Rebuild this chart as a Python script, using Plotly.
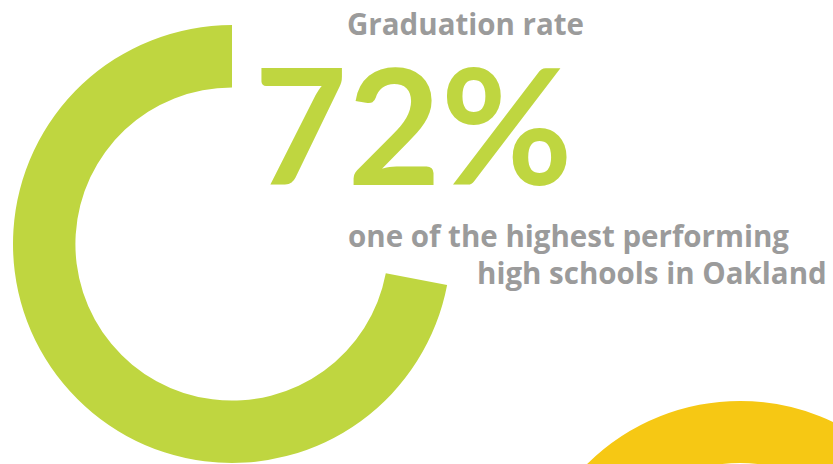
import plotly.graph_objects as go

# ---- data ----
labels = ["Graduated", "Not graduated"]
values = [72, 28]
title_text = "Graduation rate"
big_text = "72%"
sub_line1 = "one of the highest performing"
sub_line2 = "high schools in Oakland"

GREEN = "#bfd640"
YELLOW = "#f6c814"
GRAY = "#9b9b9b"

W, H = 833, 464

def px(x):
    return x / W

def py(y):
    return 1 - y / H

fig = go.Figure()

# green donut (72% of the ring, running counterclockwise from 12 o'clock)
cx, cy, R = 232, 244, 219
fig.add_trace(go.Pie(
    labels=labels[::-1],
    values=values[::-1],
    sort=False,
    direction="clockwise",
    rotation=0,
    hole=0.715,
    marker=dict(colors=["rgba(0,0,0,0)", GREEN], line=dict(width=0)),
    textinfo="none",
    hoverinfo="none",
    showlegend=False,
    domain=dict(x=[px(cx - R), px(cx + R)], y=[py(cy + R), py(cy - R)]),
))

# partial yellow ring at bottom-right (next stat, cut off)
ycx, ycy, yr_mid, yw = 740, 618, 186, 62
fig.add_shape(type="circle", xref="paper", yref="paper",
              x0=px(ycx - yr_mid), x1=px(ycx + yr_mid),
              y0=py(ycy + yr_mid), y1=py(ycy - yr_mid),
              line=dict(color=YELLOW, width=yw), fillcolor="rgba(0,0,0,0)",
              layer="below")

TXT_FONT = "Open Sans"
TS = 29.5
fig.add_annotation(text=title_text, x=px(345), y=py(24), xref="paper", yref="paper",
                   xanchor="left", yanchor="middle", showarrow=False,
                   font=dict(family=TXT_FONT, size=TS, color=GRAY, weight="bold"))
fig.add_annotation(text=big_text, x=px(252), y=py(122), xref="paper", yref="paper",
                   xanchor="left", yanchor="middle", showarrow=False,
                   height=150, valign="middle",
                   font=dict(family="Lato", size=161, color=GREEN, weight="bold"))
fig.add_annotation(text=sub_line1, x=px(346), y=py(236), xref="paper", yref="paper",
                   xanchor="left", yanchor="middle", showarrow=False,
                   font=dict(family=TXT_FONT, size=TS, color=GRAY, weight="bold"))
fig.add_annotation(text=sub_line2, x=px(829), y=py(272), xref="paper", yref="paper",
                   xanchor="right", yanchor="middle", showarrow=False,
                   font=dict(family=TXT_FONT, size=TS, color=GRAY, weight="bold"))

fig.update_layout(
    width=W, height=H,
    margin=dict(l=0, r=0, t=0, b=0),
    paper_bgcolor="white", plot_bgcolor="white",
    showlegend=False,
)

fig.write_html("out.html", config=dict(displayModeBar=False))
